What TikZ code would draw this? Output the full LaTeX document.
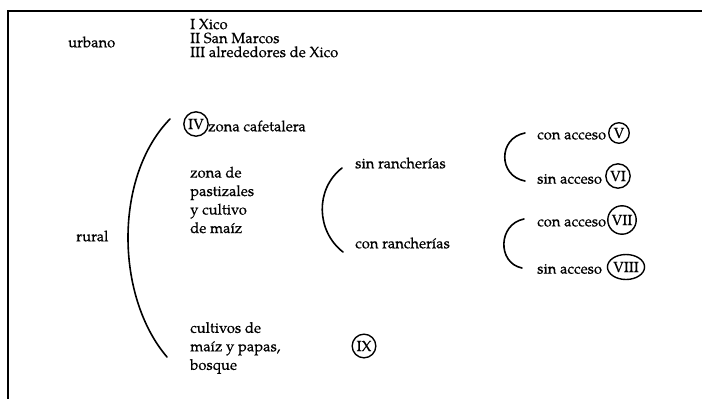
\documentclass[tikz,border=0pt]{standalone}
\usepackage{fontspec}
\setmainfont{texgyrepagella}[Extension = .otf, UprightFont = *-regular,
    BoldFont = *-bold, UprightFeatures = {FakeBold = 0.5}]
\usetikzlibrary{shapes.geometric}
\begin{document}
\begin{tikzpicture}[x=1pt, y=-1pt,
    txt/.style = {anchor = west, inner sep = 0pt, align = left,
                  font = \fontsize{14.8}{18.5}\selectfont},
    num/.style = {draw, circle, line width = 1.4pt, inner sep = 2pt,
                  font = \fontsize{14.8}{14}\selectfont},
    brace/.style = {line width = 1.6pt, line cap = round}]
    \useasboundingbox (0,0) rectangle (702,399);
    % frame
    \draw[line width = 1.5pt] (702,11) -- (8,11) -- (8,399);
    % urbano
    \node[txt] (urbano) at (68,42) {urbano};
    \node[txt, font = \fontsize{14.8}{14}\selectfont] (zonas) at (190,38)
        {I Xico\\II San Marcos\\III alrededores de Xico};
    % rural
    \node[txt] (rural) at (76,236) {rural};
    \draw[brace] (170,119) .. controls (114,176) and (115,296) .. (167,357);
    \node[num] (iv) at (196,124) {IV};
    \node[txt] (cafe) at (208,126) {zona cafetalera};
    \node[txt] (pasto) at (190,200) {zona de\\pastizales\\y cultivo\\de maíz};
    \node[txt] (bosque) at (190,348) {cultivos de\\maíz y papas,\\bosque};
    \node[num] (ix) at (364,346) {IX};
    % rancherias
    \draw[brace] (342,168) .. controls (315,189) and (316,231) .. (343,252);
    \node[txt] (sinr) at (355,163) {sin rancherías};
    \node[txt] (conr) at (355,243) {con rancherías};
    % acceso
    \draw[brace] (525,133) .. controls (498,138) and (498,176) .. (525,181);
    \draw[brace] (524,219) .. controls (498,224) and (497,263) .. (522,268);
    \node[txt] (cona) at (537,136) {con acceso};
    \node[num] (v) at (619,133) {V};
    \node[txt] (sina) at (537,179) {sin acceso};
    \node[num] (vi) at (618,176) {VI};
    \node[txt] (conb) at (537,223) {con acceso};
    \node[num] (vii) at (622,220) {VII};
    \node[txt] (sinb) at (537,269) {sin acceso};
    \node[num, ellipse, inner sep = 0.3pt, minimum height = 25pt] (viii) at (626,267) {VIII};
\end{tikzpicture}
\end{document}
